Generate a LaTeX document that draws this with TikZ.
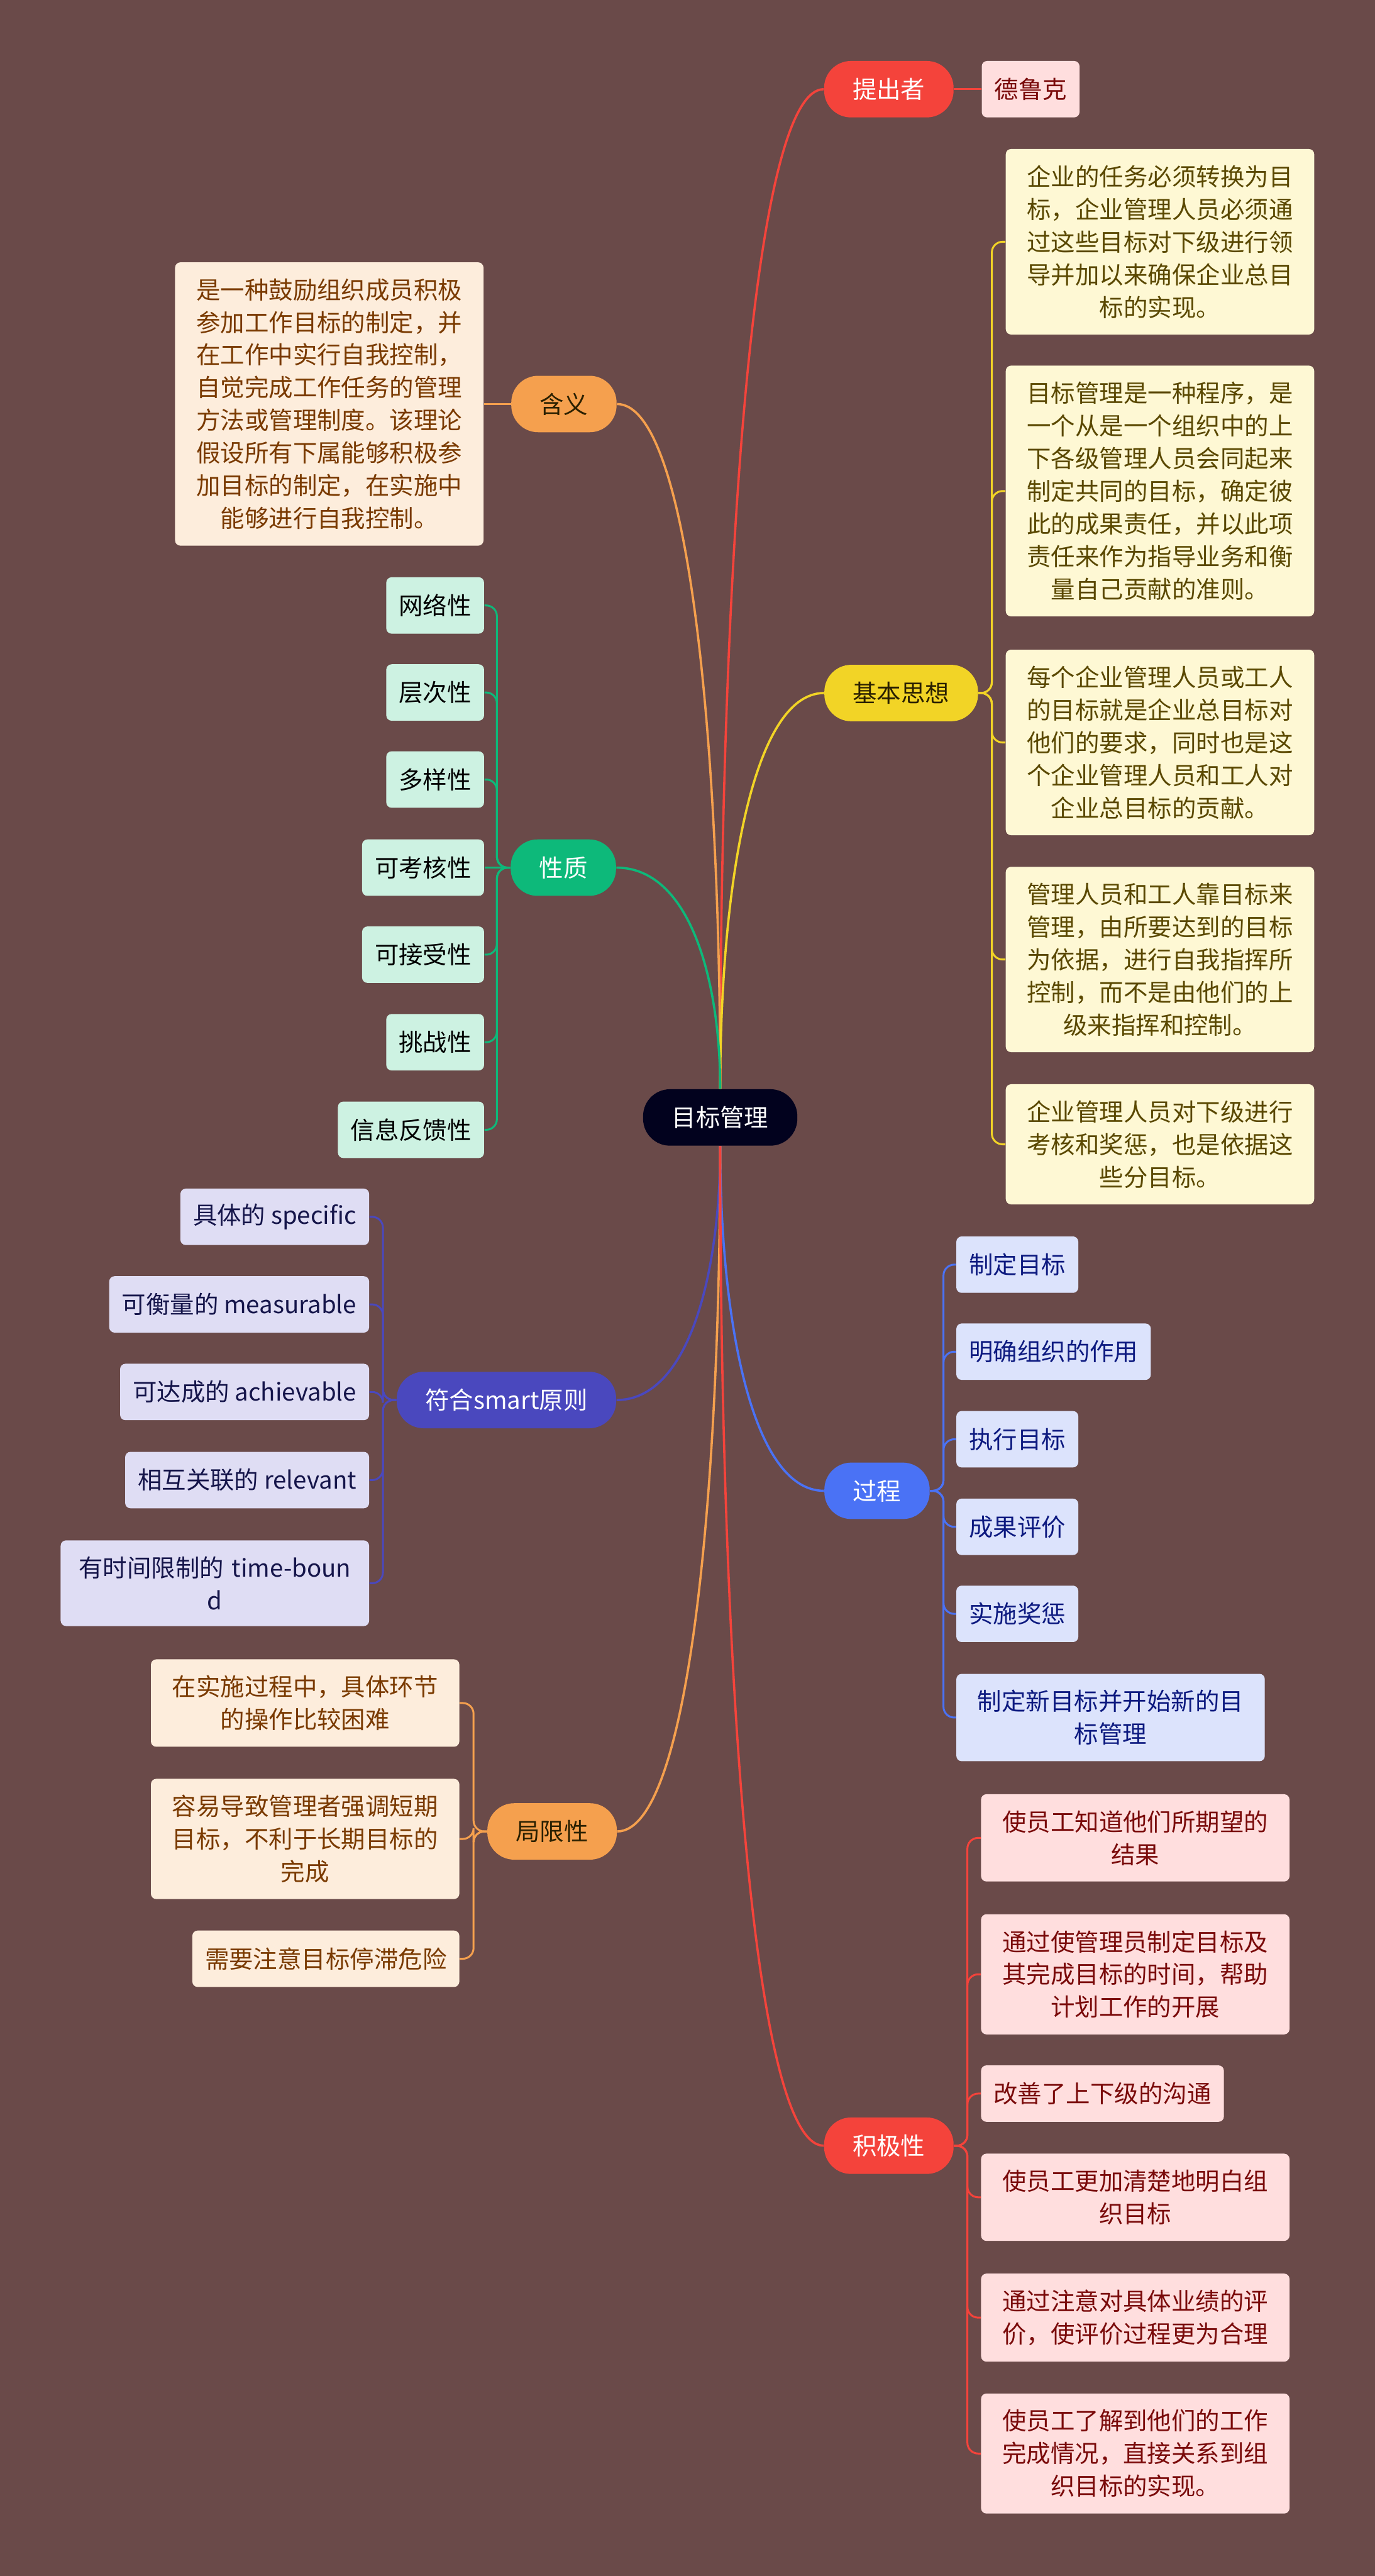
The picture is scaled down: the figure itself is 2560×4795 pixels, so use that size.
\documentclass[tikz,border=0pt]{standalone}
\usepackage{fontspec}
\setmainfont{Noto Sans CJK SC}
\usetikzlibrary{positioning,calc}
\definecolor{bgc}{HTML}{6A4A49}
\definecolor{rootc}{HTML}{02021E}
\definecolor{redc}{HTML}{F4433B}
\definecolor{orac}{HTML}{F5A04E}
\definecolor{yelc}{HTML}{F2D426}
\definecolor{grnc}{HTML}{0DB97A}
\definecolor{purc}{HTML}{4A48BE}
\definecolor{bluc}{HTML}{4A72F5}
\definecolor{pinkf}{HTML}{FFDEDE}
\definecolor{yelf}{HTML}{FEF8D4}
\definecolor{peachf}{HTML}{FDEDDC}
\definecolor{mintf}{HTML}{CDF2E2}
\definecolor{lavf}{HTML}{DFDDF4}
\definecolor{bluef}{HTML}{DCE3FC}
\definecolor{redt}{HTML}{7A0A0A}
\definecolor{yelt}{HTML}{5A4800}
\definecolor{orat}{HTML}{7A3A00}
\definecolor{lavt}{HTML}{15154A}
\definecolor{bluet}{HTML}{0D1A80}
\definecolor{topict}{HTML}{2A2000}

\begin{document}
\begin{tikzpicture}[x=0.01cm, y=-0.01cm,
  every node/.style={font=\fontsize{12.8pt}{17.3pt}\selectfont},
  rootbox/.style={fill=rootc, text=white, rounded corners=0.5cm, minimum width=2.87cm, minimum height=1.05cm},
  topicbox/.style={rounded corners=0.5cm, minimum height=1.05cm, inner xsep=0.53cm},
  leafbox/.style={rounded corners=0.1cm, minimum height=1.05cm, inner xsep=0.235cm},
  parabox/.style={rounded corners=0.1cm, text width=5.2cm, inner xsep=0.27cm, inner ysep=0.3cm, align=center},
  mainline/.style={line width=1.2pt},
  subline/.style={line width=1pt, rounded corners=0.2cm},
  curvy/.style={to path={let \p1=(\tikztostart), \p2=(\tikztotarget) in
    .. controls (\x1,{0.5*(\y1+\y2)}) and ({\x1+0.3*(\x2-\x1)},\y2) .. (\tikztotarget)}}]
\useasboundingbox (0,0) rectangle (2560,4795);
\fill [bgc] (0,0) rectangle (2560,4795);

\node [rootbox] (r) at (1341,2080) {目标管理};

\node [topicbox, fill=redc, text=white] (tc) at (1655,166) {提出者};
\node [leafbox, fill=pinkf, text=redt, right=0.51cm of tc] (dlk) {德鲁克};

\node [topicbox, fill=orac, text=topict] (hy) at (1050,752) {含义};
\node [parabox, fill=peachf, text=orat, anchor=east] (hy1) at (901,752) {是一种鼓励组织成员积极\\参加工作目标的制定，并\\在工作中实行自我控制，\\自觉完成工作任务的管理\\方法或管理制度。该理论\\假设所有下属能够积极参\\加目标的制定，在实施中\\能够进行自我控制。};

\node [topicbox, fill=yelc, text=topict] (jb) at (1678,1290) {基本思想};
\node [parabox, fill=yelf, text=yelt, anchor=west] (jb1) at (1872,450) {企业的任务必须转换为目\\标，企业管理人员必须通\\过这些目标对下级进行领\\导并加以来确保企业总目\\标的实现。};
\node [parabox, fill=yelf, text=yelt, anchor=west] (jb2) at (1872,914) {目标管理是一种程序，是\\一个从是一个组织中的上\\下各级管理人员会同起来\\制定共同的目标，确定彼\\此的成果责任，并以此项\\责任来作为指导业务和衡\\量自己贡献的准则。};
\node [parabox, fill=yelf, text=yelt, anchor=west] (jb3) at (1872,1382) {每个企业管理人员或工人\\的目标就是企业总目标对\\他们的要求，同时也是这\\个企业管理人员和工人对\\企业总目标的贡献。};
\node [parabox, fill=yelf, text=yelt, anchor=west] (jb4) at (1872,1786) {管理人员和工人靠目标来\\管理，由所要达到的目标\\为依据，进行自我指挥所\\控制，而不是由他们的上\\级来指挥和控制。};
\node [parabox, fill=yelf, text=yelt, anchor=west] (jb5) at (1872,2130) {企业管理人员对下级进行\\考核和奖惩，也是依据这\\些分目标。};

\node [topicbox, fill=grnc, text=white] (xz) at (1049,1615) {性质};
\node [leafbox, fill=mintf, anchor=east] (xz1) at (902,1127) {网络性};
\node [leafbox, fill=mintf, anchor=east] (xz2) at (902,1289) {层次性};
\node [leafbox, fill=mintf, anchor=east] (xz3) at (902,1451) {多样性};
\node [leafbox, fill=mintf, anchor=east] (xz4) at (902,1615) {可考核性};
\node [leafbox, fill=mintf, anchor=east] (xz5) at (902,1777) {可接受性};
\node [leafbox, fill=mintf, anchor=east] (xz6) at (902,1940) {挑战性};
\node [leafbox, fill=mintf, anchor=east] (xz7) at (902,2103) {信息反馈性};

\node [topicbox, fill=purc, text=white] (sm) at (943,2606) {符合smart原则};
\node [leafbox, fill=lavf, text=lavt, anchor=east] (sm1) at (688,2265) {具体的 specific};
\node [leafbox, fill=lavf, text=lavt, anchor=east] (sm2) at (688,2428) {可衡量的 measurable};
\node [leafbox, fill=lavf, text=lavt, anchor=east] (sm3) at (688,2591) {可达成的 achievable};
\node [leafbox, fill=lavf, text=lavt, anchor=east] (sm4) at (688,2755) {相互关联的 relevant};
\node [parabox, fill=lavf, text=lavt, anchor=east] (sm5) at (688,2947) {有时间限制的~time-boun\\d};

\node [topicbox, fill=bluc, text=white] (gc) at (1633,2775) {过程};
\node [leafbox, fill=bluef, text=bluet, anchor=west] (gc1) at (1780,2354) {制定目标};
\node [leafbox, fill=bluef, text=bluet, anchor=west] (gc2) at (1780,2516) {明确组织的作用};
\node [leafbox, fill=bluef, text=bluet, anchor=west] (gc3) at (1780,2679) {执行目标};
\node [leafbox, fill=bluef, text=bluet, anchor=west] (gc4) at (1780,2842) {成果评价};
\node [leafbox, fill=bluef, text=bluet, anchor=west] (gc5) at (1780,3004) {实施奖惩};
\node [parabox, fill=bluef, text=bluet, anchor=west] (gc6) at (1780,3197) {制定新目标并开始新的目\\标管理};

\node [topicbox, fill=orac, text=topict] (jx) at (1028,3409) {局限性};
\node [parabox, fill=peachf, text=orat, anchor=east] (jx1) at (856,3170) {在实施过程中，具体环节\\的操作比较困难};
\node [parabox, fill=peachf, text=orat, anchor=east] (jx2) at (856,3423) {容易导致管理者强调短期\\目标，不利于长期目标的\\完成};
\node [leafbox, fill=peachf, text=orat, anchor=east] (jx3) at (856,3646) {需要注意目标停滞危险};

\node [topicbox, fill=redc, text=white] (jj) at (1655,3994) {积极性};
\node [parabox, fill=pinkf, text=redt, anchor=west] (jj1) at (1826,3421) {使员工知道他们所期望的\\结果};
\node [parabox, fill=pinkf, text=redt, anchor=west] (jj2) at (1826,3675) {通过使管理员制定目标及\\其完成目标的时间，帮助\\计划工作的开展};
\node [leafbox, fill=pinkf, text=redt, anchor=west] (jj3) at (1826,3897) {改善了上下级的沟通};
\node [parabox, fill=pinkf, text=redt, anchor=west] (jj4) at (1826,4090) {使员工更加清楚地明白组\\织目标};
\node [parabox, fill=pinkf, text=redt, anchor=west] (jj5) at (1826,4314) {通过注意对具体业绩的评\\价，使评价过程更为合理};
\node [parabox, fill=pinkf, text=redt, anchor=west] (jj6) at (1826,4567) {使员工了解到他们的工作\\完成情况，直接关系到组\\织目标的实现。};

\draw [mainline, redc] (r.north) to[curvy] (tc.west);
\draw [mainline, orac] (r.north) to[curvy] (hy.east);
\draw [mainline, yelc] (r.north) to[curvy] (jb.west);
\draw [mainline, grnc] (r.north) to[curvy] (xz.east);
\draw [mainline, purc] (r.south) to[curvy] (sm.east);
\draw [mainline, bluc] (r.south) to[curvy] (gc.west);
\draw [mainline, orac] (r.south) to[curvy] (jx.east);
\draw [mainline, redc] (r.south) to[curvy] (jj.west);

\draw [subline, redc] (tc) -- (dlk);
\draw [subline, orac] (hy.west) -- (hy1.east);
\draw [subline, yelc] (jb.east) -- ++(25,0) |- (jb1.west);
\draw [subline, yelc] (jb.east) -- ++(25,0) |- (jb2.west);
\draw [subline, yelc] (jb.east) -- ++(25,0) |- (jb3.west);
\draw [subline, yelc] (jb.east) -- ++(25,0) |- (jb4.west);
\draw [subline, yelc] (jb.east) -- ++(25,0) |- (jb5.west);
\draw [subline, grnc] (xz.west) -- ++(-25,0) |- (xz1.east);
\draw [subline, grnc] (xz.west) -- ++(-25,0) |- (xz2.east);
\draw [subline, grnc] (xz.west) -- ++(-25,0) |- (xz3.east);
\draw [subline, grnc] (xz.west) -- (xz4.east);
\draw [subline, grnc] (xz.west) -- ++(-25,0) |- (xz5.east);
\draw [subline, grnc] (xz.west) -- ++(-25,0) |- (xz6.east);
\draw [subline, grnc] (xz.west) -- ++(-25,0) |- (xz7.east);
\draw [subline, purc] (sm.west) -- ++(-25,0) |- (sm1.east);
\draw [subline, purc] (sm.west) -- ++(-25,0) |- (sm2.east);
\draw [subline, purc] (sm.west) -- ++(-25,0) |- (sm3.east);
\draw [subline, purc] (sm.west) -- ++(-25,0) |- (sm4.east);
\draw [subline, purc] (sm.west) -- ++(-25,0) |- (sm5.east);
\draw [subline, bluc] (gc.east) -- ++(25,0) |- (gc1.west);
\draw [subline, bluc] (gc.east) -- ++(25,0) |- (gc2.west);
\draw [subline, bluc] (gc.east) -- ++(25,0) |- (gc3.west);
\draw [subline, bluc] (gc.east) -- ++(25,0) |- (gc4.west);
\draw [subline, bluc] (gc.east) -- ++(25,0) |- (gc5.west);
\draw [subline, bluc] (gc.east) -- ++(25,0) |- (gc6.west);
\draw [subline, orac] (jx.west) -- ++(-25,0) |- (jx1.east);
\draw [subline, orac] (jx.west) -- ++(-25,0) |- (jx2.east);
\draw [subline, orac] (jx.west) -- ++(-25,0) |- (jx3.east);
\draw [subline, redc] (jj.east) -- ++(25,0) |- (jj1.west);
\draw [subline, redc] (jj.east) -- ++(25,0) |- (jj2.west);
\draw [subline, redc] (jj.east) -- ++(25,0) |- (jj3.west);
\draw [subline, redc] (jj.east) -- ++(25,0) |- (jj4.west);
\draw [subline, redc] (jj.east) -- ++(25,0) |- (jj5.west);
\draw [subline, redc] (jj.east) -- ++(25,0) |- (jj6.west);
\end{tikzpicture}
\end{document}
